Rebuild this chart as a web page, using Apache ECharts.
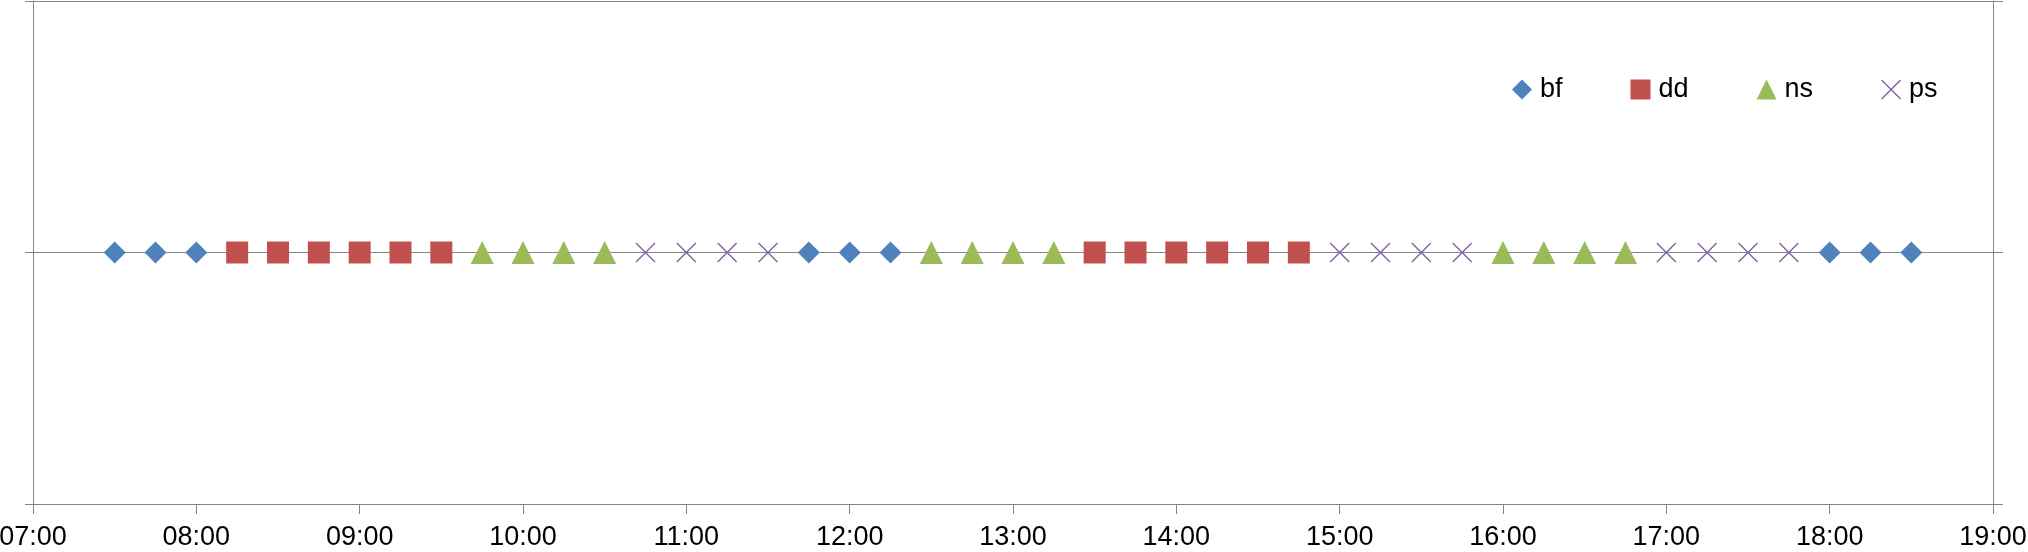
<!DOCTYPE html>
<html>
<head>
<meta charset="utf-8">
<title>Schedule</title>
<script src="https://cdn.jsdelivr.net/npm/echarts@6/dist/echarts.min.js"></script>
<style>
    html, body { margin: 0; padding: 0; background: #fff; }
    #chart { width: 2028px; height: 552px; }
</style>
</head>
<body>
<div id="chart"></div>
<script>
// slot start times per activity
const bfTimes = ["07:30", "07:45", "08:00", "11:45", "12:00", "12:15", "18:00", "18:15", "18:30"];
const ddTimes = ["08:15", "08:30", "08:45", "09:00", "09:15", "09:30", "13:30", "13:45", "14:00", "14:15", "14:30", "14:45"];
const nsTimes = ["09:45", "10:00", "10:15", "10:30", "12:30", "12:45", "13:00", "13:15", "16:00", "16:15", "16:30", "16:45"];
const psTimes = ["10:45", "11:00", "11:15", "11:30", "15:00", "15:15", "15:30", "15:45", "17:00", "17:15", "17:30", "17:45"];

const seriesNames = ["bf", "dd", "ns", "ps"];
const axisColor = "#868686";
const font = "'Liberation Sans', Arial, sans-serif";

// "HH:MM" -> hours
const toHours = (t) => {
    const [h, m] = t.split(":").map(Number);
    return h + m / 60;
};
const pad = (n) => (n < 10 ? "0" + n : "" + n);

const crossPath =
    "path://M0,5L5,0L50,45L95,0L100,5L55,50L100,95L95,100L50,55L5,100L0,95L45,50Z";

const styles = [
    { symbol: "diamond", symbolSize: 22, color: "#4F81BD" },
    { symbol: "rect", symbolSize: 22, color: "#C0504D" },
    { symbol: "triangle", symbolSize: 23, color: "#9BBB59" },
    { symbol: crossPath, symbolSize: 20, color: "#8064A2" },
];

const allTimes = [bfTimes, ddTimes, nsTimes, psTimes];

const series = seriesNames.map((name, i) => ({
    name,
    type: "scatter",
    symbol: styles[i].symbol,
    symbolSize: styles[i].symbolSize,
    itemStyle: { color: styles[i].color, opacity: 1 },
    data: allTimes[i].map((t) => [toHours(t), 0]),
    z: 3,
}));

const chart = echarts.init(document.getElementById("chart"), null, { renderer: "canvas" });

chart.setOption({
    animation: false,
    textStyle: { fontFamily: font },
    grid: { left: 33, right: 35, top: 1, bottom: 48, outerBoundsMode: "none", containLabel: false },
    legend: {
        left: 1507,
        top: 71,
        itemWidth: 20,
        itemHeight: 20,
        itemGap: 68,
        textStyle: { fontSize: 27, color: "#000", fontFamily: font, padding: [0, 0, 0, 3] },
        data: seriesNames.map((name, i) => ({ name, icon: styles[i].symbol })),
    },
    xAxis: {
        type: "value",
        min: 7,
        max: 19,
        interval: 1,
        axisLine: { show: true, onZero: false, lineStyle: { color: axisColor, width: 1 } },
        axisTick: { show: true, length: 10, lineStyle: { color: axisColor } },
        splitLine: { show: false },
        axisLabel: {
            margin: 20,
            fontSize: 27,
            color: "#000",
            fontFamily: font,
            formatter: (v) => pad(Math.round(v)) + ":00",
        },
    },
    yAxis: [
        {
            type: "value",
            min: -1,
            max: 1,
            interval: 1,
            axisLine: { show: true, onZero: false, lineStyle: { color: axisColor, width: 1 } },
            axisTick: { show: true, length: 8, lineStyle: { color: axisColor } },
            splitLine: { show: true, lineStyle: { color: axisColor, width: 1 } },
            axisLabel: { show: false },
        },
        {
            type: "value",
            position: "right",
            min: -1,
            max: 1,
            interval: 1,
            axisLine: { show: true, onZero: false, lineStyle: { color: axisColor, width: 1 } },
            axisTick: { show: true, length: 10, lineStyle: { color: axisColor } },
            splitLine: { show: false },
            axisLabel: { show: false },
        },
    ],
    series,
});
</script>
</body>
</html>
